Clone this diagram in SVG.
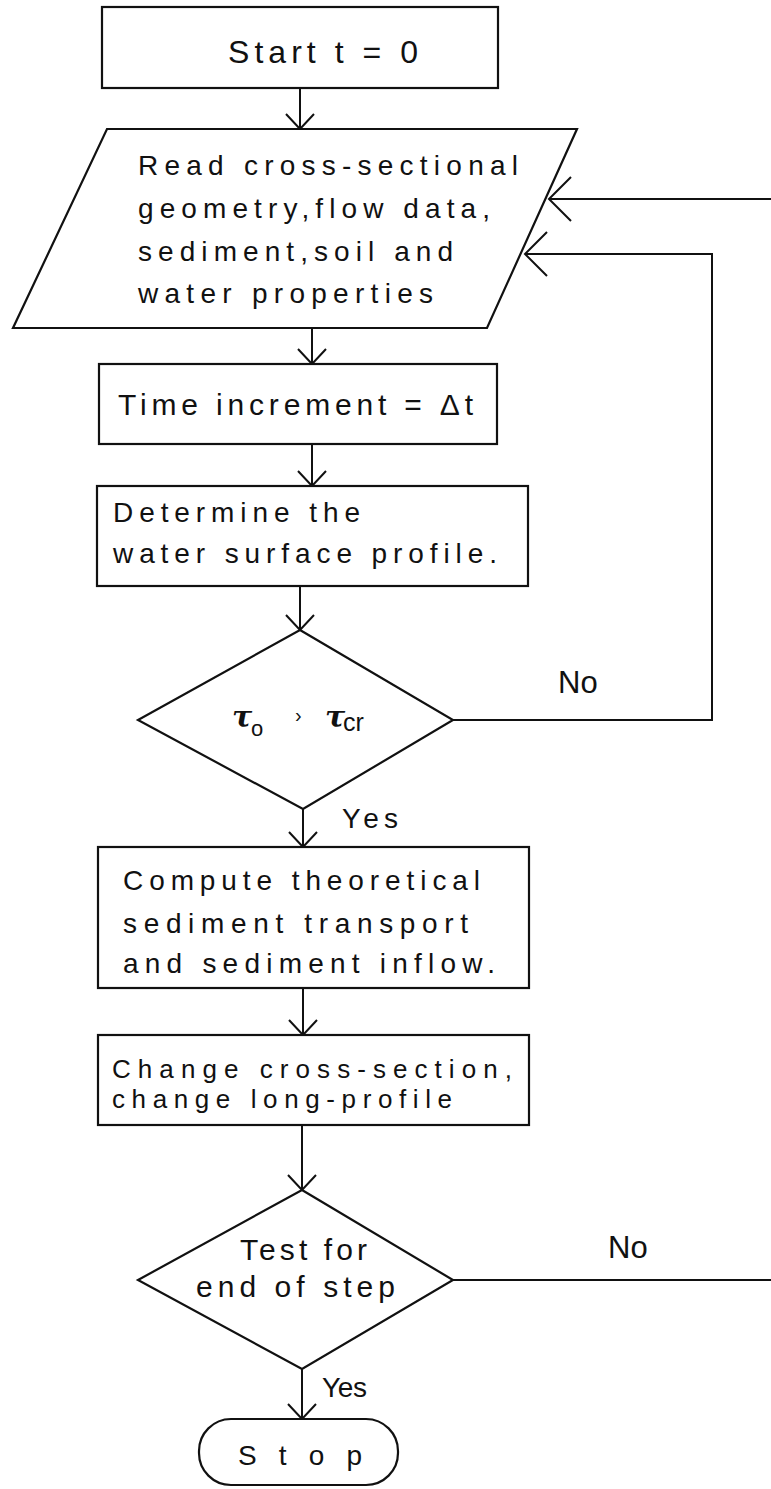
<svg xmlns="http://www.w3.org/2000/svg" width="771" height="1489" viewBox="0 0 771 1489">
<style>
.s{fill:#fff;stroke:#111;stroke-width:2.2;stroke-linejoin:miter}
.c{fill:none;stroke:#111;stroke-width:2}
text{font-family:"Liberation Sans","DejaVu Sans",sans-serif;fill:#111}
.t{font-size:28px}
.g{font-family:"DejaVu Serif","Liberation Serif",serif;font-style:italic;font-weight:bold}
</style>
<defs>
<marker id="a" markerUnits="userSpaceOnUse" markerWidth="40" markerHeight="40" viewBox="-20 -20 40 40" refX="0" refY="0" orient="auto">
<path d="M-15,-14 L0,0 L-15,14" fill="none" stroke="#111" stroke-width="2"/>
</marker>
<marker id="b" markerUnits="userSpaceOnUse" markerWidth="60" markerHeight="60" viewBox="-30 -30 60 60" refX="0" refY="0" orient="auto">
<path d="M-22,-22 L0,0 L-22,22" fill="none" stroke="#111" stroke-width="2"/>
</marker>
</defs>
<g id="connectors">
<line class="c" x1="300" y1="88" x2="300" y2="129" marker-end="url(#a)"/>
<line class="c" x1="312" y1="328" x2="312" y2="364" marker-end="url(#a)"/>
<line class="c" x1="312" y1="444" x2="312" y2="486" marker-end="url(#a)"/>
<line class="c" x1="300" y1="586" x2="300" y2="630" marker-end="url(#a)"/>
<line class="c" x1="303" y1="809" x2="303" y2="847" marker-end="url(#a)"/>
<line class="c" x1="303" y1="988" x2="303" y2="1035" marker-end="url(#a)"/>
<line class="c" x1="302" y1="1125" x2="302" y2="1190" marker-end="url(#a)"/>
<line class="c" x1="302" y1="1369" x2="302" y2="1419" marker-end="url(#a)"/>
<path class="c" d="M453,720 L712,720 L712,254 L525,254" marker-end="url(#b)"/>
<path class="c" d="M453,1280 L775,1280 L775,199 L549,199" marker-end="url(#b)"/>
<text x="558" y="693" font-size="31">No</text>
<text class="t" x="342" y="828" textLength="56" lengthAdjust="spacing">Yes</text>
<text x="608" y="1258" font-size="31">No</text>
<text class="t" x="322" y="1397" textLength="45" lengthAdjust="spacing">Yes</text>
</g>
<g id="start">
<rect class="s" x="102" y="7" width="396" height="81"/>
<text x="228" y="63" font-size="32" textLength="190" lengthAdjust="spacing">Start t = 0</text>
</g>
<g id="read">
<polygon class="s" points="107,129 577,129 487,328 13,328"/>
<text class="t" x="138" y="175" textLength="380" lengthAdjust="spacing">Read cross-sectional</text>
<text class="t" x="138" y="218" textLength="352" lengthAdjust="spacing">geometry,flow data,</text>
<text class="t" x="138" y="261" textLength="315" lengthAdjust="spacing">sediment,soil and</text>
<text class="t" x="138" y="303" textLength="295" lengthAdjust="spacing">water properties</text>
</g>
<g id="time">
<rect class="s" x="99" y="364" width="398" height="80"/>
<text x="118" y="415" font-size="30" textLength="355" lengthAdjust="spacing">Time increment = Δt</text>
</g>
<g id="determine">
<rect class="s" x="97" y="486" width="431" height="100"/>
<text class="t" x="113" y="522" textLength="247" lengthAdjust="spacing">Determine the</text>
<text class="t" x="113" y="563" textLength="384" lengthAdjust="spacing">water surface profile.</text>
</g>
<g id="decision1">
<polygon class="s" points="300,630 453,720 303,809 138,720"/>
<text class="g" x="232" y="727" font-size="30">τ</text>
<text x="251" y="736" font-size="22">o</text>
<text x="295" y="722" font-size="20">›</text>
<text class="g" x="325" y="727" font-size="30">τ</text>
<text x="343" y="731" font-size="25">cr</text>
</g>
<g id="compute">
<rect class="s" x="98" y="847" width="431" height="141"/>
<text class="t" x="123" y="890" font-size="30" textLength="357" lengthAdjust="spacing">Compute theoretical</text>
<text class="t" x="123" y="933" font-size="30" textLength="345" lengthAdjust="spacing">sediment transport</text>
<text class="t" x="123" y="973" font-size="30" textLength="372" lengthAdjust="spacing">and sediment inflow.</text>
</g>
<g id="change">
<rect class="s" x="98" y="1035" width="431" height="90"/>
<text x="112" y="1078" font-size="26" textLength="400" lengthAdjust="spacing">Change cross-section,</text>
<text x="112" y="1108" font-size="26" textLength="340" lengthAdjust="spacing">change long-profile</text>
</g>
<g id="decision2">
<polygon class="s" points="302,1190 453,1280 302,1369 138,1280"/>
<text x="240" y="1260" font-size="30" textLength="127" lengthAdjust="spacing">Test for</text>
<text x="196" y="1297" font-size="30" textLength="199" lengthAdjust="spacing">end of step</text>
</g>
<g id="stop">
<rect class="s" x="199" y="1419" width="199" height="66" rx="32" ry="32"/>
<text x="238" y="1465" font-size="28" textLength="124" lengthAdjust="spacing">S t o p</text>
</g>
</svg>
